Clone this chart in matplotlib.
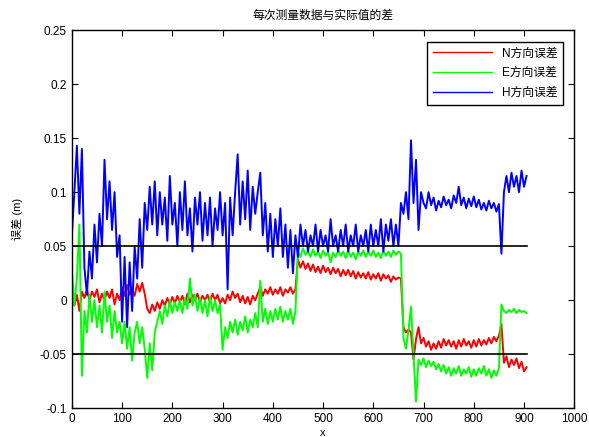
import numpy as np
import matplotlib
matplotlib.use('Agg')
import matplotlib.pyplot as plt

plt.rcParams['font.family'] = ['Liberation Sans', 'Noto Sans CJK SC', 'DejaVu Sans']
plt.rcParams['axes.unicode_minus'] = False

# sample index (every 5th measurement)
step = 5

# H direction error (blue)
h_err = [0.06, 0.10, 0.143, 0.08, 0.14, 0.03, 0.005, 0.045, 0.02, 0.07,
         0.035, 0.08, 0.05, 0.13, 0.075, 0.11, 0.065, 0.10, 0.04, 0.06,
         -0.02, 0.04, -0.025, 0.035, -0.01, 0.05, 0.02, 0.075, 0.03, 0.09,
         0.065, 0.105, 0.07, 0.11, 0.06, 0.10, 0.07, 0.095, 0.055, 0.115,
         0.07, 0.09, 0.05, 0.10, 0.065, 0.11, 0.06, 0.085, 0.045, 0.095,
         0.07, 0.10, 0.055, 0.09, 0.06, 0.095, 0.05, 0.085, 0.065, 0.10,
         0.06, 0.09, 0.01, 0.095, 0.06, 0.10, 0.135, 0.07, 0.11, 0.075,
         0.12, 0.065, 0.105, 0.08, 0.10, 0.118, 0.06, 0.09, 0.045, 0.08,
         0.04, 0.075, 0.05, 0.085, 0.04, 0.07, 0.03, 0.065, 0.025, 0.06,
         0.04, 0.07, 0.05, 0.065, 0.045, 0.06, 0.05, 0.07, 0.045, 0.065,
         0.05, 0.06, 0.045, 0.075, 0.05, 0.06, 0.045, 0.065, 0.05, 0.07,
         0.045, 0.06, 0.05, 0.07, 0.045, 0.06, 0.05, 0.065, 0.045, 0.07,
         0.05, 0.065, 0.05, 0.075, 0.045, 0.07, 0.055, 0.075, 0.05, 0.07,
         0.05, 0.09, 0.08, 0.10, 0.075, 0.148, 0.09, 0.13, 0.065, 0.10,
         0.09, 0.085, 0.10, 0.088, 0.095, 0.083, 0.092, 0.086, 0.096, 0.088,
         0.093, 0.085, 0.097, 0.09, 0.105, 0.088, 0.095, 0.085, 0.094, 0.087,
         0.096, 0.086, 0.093, 0.084, 0.09, 0.083, 0.092, 0.085, 0.09, 0.082,
         0.089, 0.043, 0.10, 0.115, 0.10, 0.118, 0.105, 0.115, 0.10, 0.12,
         0.105, 0.115]

# N direction error (red)
n_err = [0.0, -0.005, 0.005, -0.01, 0.008, 0.002, 0.01, 0.0, 0.008, 0.003,
         0.01, -0.002, 0.006, 0.0, 0.008, 0.002, 0.01, -0.004, 0.006, 0.0,
         0.012, 0.004, 0.014, 0.005, 0.01, 0.004, 0.015, 0.008, 0.016, 0.006,
         -0.008, -0.012, -0.004, -0.01, -0.002, -0.008, 0.0, -0.005, 0.002, -0.004,
         0.003, -0.003, 0.004, -0.002, 0.004, -0.004, 0.006, -0.002, 0.005, 0.0,
         0.006, -0.002, 0.004, 0.0, 0.005, -0.002, 0.006, 0.0, 0.005, -0.003,
         0.002, -0.003, 0.005, 0.0, 0.008, 0.002, 0.006, -0.002, 0.004, -0.003,
         0.003, -0.004, 0.004, 0.0, 0.006, 0.012, 0.004, 0.01, 0.006, 0.012,
         0.005, 0.01, 0.006, 0.012, 0.004, 0.01, 0.007, 0.012, 0.006, 0.01,
         0.038, 0.03, 0.036, 0.029, 0.034, 0.027, 0.033, 0.026, 0.031, 0.025,
         0.032, 0.026, 0.03, 0.024, 0.03, 0.025, 0.029, 0.022, 0.028, 0.023,
         0.028, 0.022, 0.027, 0.02, 0.026, 0.021, 0.025, 0.02, 0.026, 0.019,
         0.024, 0.02, 0.025, 0.018, 0.024, 0.02, 0.023, 0.017, 0.022, 0.019,
         0.021, 0.02, -0.025, -0.03, -0.027, -0.03, -0.055, -0.036, -0.025, -0.04,
         -0.035, -0.043, -0.038, -0.046, -0.04, -0.045, -0.038, -0.044, -0.036, -0.042,
         -0.037, -0.043, -0.038, -0.045, -0.037, -0.043, -0.036, -0.042, -0.038, -0.044,
         -0.037, -0.043, -0.036, -0.042, -0.037, -0.041, -0.035, -0.04, -0.034, -0.038,
         -0.033, -0.022, -0.058, -0.052, -0.062, -0.055, -0.06, -0.054, -0.063, -0.057,
         -0.066, -0.062]

# E direction error (green)
e_err = [0.028, -0.005, 0.02, 0.07, -0.07, -0.01, -0.03, 0.005, -0.02, 0.0,
         -0.025, -0.005, -0.03, 0.008, -0.02, -0.005, -0.035, -0.01, -0.03, -0.02,
         -0.04, -0.02, -0.045, -0.025, -0.056, -0.03, -0.02, -0.04, -0.025, -0.045,
         -0.072, -0.04, -0.065, -0.03, -0.02, -0.01, -0.022, -0.005, -0.015, 0.0,
         -0.012, -0.002, -0.01, 0.0, -0.012, 0.002, -0.008, 0.02, -0.005, 0.005,
         -0.01, 0.002, -0.012, 0.0, -0.015, 0.003, -0.01, 0.0, -0.012, -0.004,
         -0.046, -0.025, -0.035, -0.02, -0.03, -0.018, -0.032, -0.02, -0.028, -0.015,
         -0.03, -0.018, -0.025, -0.012, -0.025, 0.018, -0.02, -0.008, -0.022, -0.01,
         -0.02, -0.008, -0.018, -0.006, -0.02, -0.01, -0.018, -0.008, -0.022, -0.01,
         0.045, 0.04, 0.048, 0.042, 0.046, 0.04, 0.047, 0.041, 0.045, 0.039,
         0.046, 0.041, 0.045, 0.035, 0.044, 0.04, 0.046, 0.041, 0.045, 0.039,
         0.046, 0.04, 0.044, 0.038, 0.045, 0.041, 0.046, 0.04, 0.045, 0.041,
         0.046, 0.04, 0.044, 0.039, 0.046, 0.041, 0.045, 0.04, 0.046, 0.042,
         0.045, 0.043, -0.035, -0.045, -0.028, -0.006, -0.05, -0.094, -0.055, -0.06,
         -0.054, -0.062, -0.056, -0.061, -0.057, -0.064, -0.059, -0.066, -0.06, -0.068,
         -0.062, -0.07, -0.063, -0.068, -0.061, -0.07, -0.064, -0.068, -0.062, -0.071,
         -0.064, -0.07, -0.063, -0.068, -0.061, -0.07, -0.064, -0.072, -0.065, -0.07,
         -0.063, -0.004, -0.01, -0.012, -0.009, -0.011, -0.008, -0.012, -0.009, -0.011,
         -0.01, -0.012]

limit = 0.05
x = np.arange(len(h_err)) * step

fig = plt.figure(figsize=(5.89, 4.37), dpi=100)
ax = fig.add_axes([0.122, 0.066, 0.853, 0.865])

ax.plot(x, n_err, color='#ff0000', lw=1.4, label='N方向误差')
ax.plot(x, e_err, color='#00ff00', lw=1.4, label='E方向误差')
ax.plot(x, h_err, color='#0000ff', lw=1.4, label='H方向误差')
ax.plot([x[0], x[-1]], [limit, limit], color='black', lw=1.2)
ax.plot([x[0], x[-1]], [-limit, -limit], color='black', lw=1.2)

ax.set_xlim(0, 1000)
ax.set_ylim(-0.1, 0.25)
ax.set_xticks(np.arange(0, 1001, 100))
yt = np.arange(-0.1, 0.2501, 0.05)
ax.set_yticks(yt)
ax.set_yticklabels(['-0.1', '-0.05', '0', '0.05', '0.1', '0.15', '0.2', '0.25'])
ax.tick_params(direction='in', top=True, right=True, labelsize=8.5, length=4)
for s in ax.spines.values():
    s.set_linewidth(1.0)

ax.set_title('每次测量数据与实际值的差', fontsize=8.5, pad=8)
ax.set_xlabel('x', fontsize=8, labelpad=2)
ax.set_ylabel('误差 (m)', fontsize=8, labelpad=12)

leg = ax.legend(loc='upper right', fontsize=8.5, fancybox=False, framealpha=1,
                edgecolor='black', handlelength=5, borderpad=0.5,
                labelspacing=0.65, bbox_to_anchor=(0.99, 0.985))
leg.get_frame().set_linewidth(1.0)
for line in leg.get_lines():
    line.set_linewidth(1.0)

fig.savefig('out.png', dpi=100)
